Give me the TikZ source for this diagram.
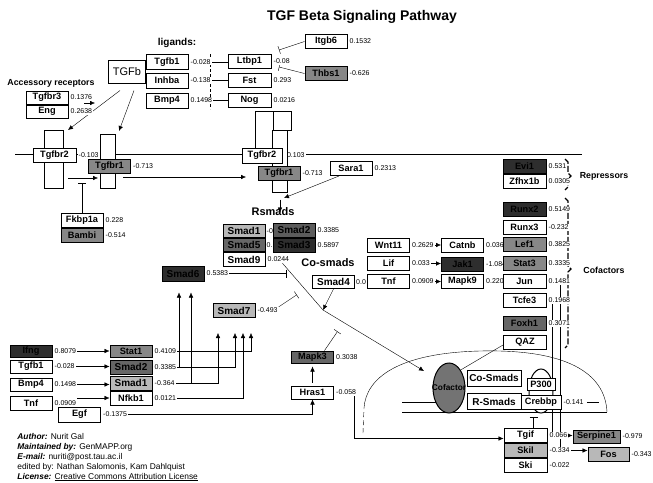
\documentclass[tikz,border=0pt]{standalone}
\usepackage{fontspec}
\setmainfont{Liberation Sans}
\usetikzlibrary{arrows.meta,positioning,shapes.geometric,calc}
\pgfdeclarelayer{wires}
\pgfdeclarelayer{labels}
\pgfsetlayers{wires,labels,main}

\begin{document}
\begin{tikzpicture}[
    x=1pt, y=-1pt,
    line width=0.8pt,
    gene/.style={
      draw,
      fill=white,
      line width=1pt,
      minimum width=42pt,
      minimum height=14pt,
      inner sep=0pt,
      font=\bfseries\fontsize{9.2}{10}\selectfont
    },
    smad/.style={gene, font=\bfseries\fontsize{10}{11}\selectfont},
    gA/.style={fill=black!28},
    gB/.style={fill=black!47},
    gC/.style={fill=black!60},
    gD/.style={fill=black!82},
    val/.style={anchor=west, fill=white, inner sep=1pt, font=\fontsize{7}{8}\selectfont},
    hdr/.style={font=\bfseries\fontsize{11}{12}\selectfont},
    grp/.style={font=\bfseries\fontsize{8.8}{10}\selectfont},
    foot/.style={anchor=west, inner sep=0pt, font=\fontsize{8.4}{9}\selectfont},
    dom/.style={draw, fill=white, line width=1pt},
    flow/.style={-{Latex[length=5pt,width=4.5pt]}},
    inh/.style={-{Bar[width=8pt]}}
  ]
  \useasboundingbox (0,0) rectangle (653,482);

  % title and group labels
  \node[font=\bfseries\fontsize{14}{16}\selectfont] (title) at (362,17) {TGF Beta Signaling Pathway};
  \node[hdr, font=\bfseries\fontsize{10}{12}\selectfont] (ligtxt) at (177,43) {ligands:};
  \node[grp] (acctxt) at (51,83) {Accessory receptors};
  \node[hdr] (rsmtxt) at (273,212) {Rsmads};
  \node[hdr] (cosmtxt) at (328,263) {Co-smads};
  \node[grp] (reptxt) at (604,176) {Repressors};
  \node[grp] (coftxt) at (604,270) {Cofactors};

  % ligands
  \node[draw, fill=white, line width=1pt, minimum width=37pt, minimum height=23pt, inner sep=0pt,
        font=\fontsize{11}{12}\selectfont] (tgfb) at (127,71.5) {TGFb};
  \node[gene, minimum height=15pt] (tgfb1) at (167,62) {Tgfb1};
  \node[gene, minimum height=15pt] (inhba) at (167,80.5) {Inhba};
  \node[gene, minimum height=15pt] (bmp4) at (167,100.5) {Bmp4};
  \node[gene, minimum width=43pt] (ltbp1) at (249.5,61.5) {Ltbp1};
  \node[gene, minimum width=43pt] (fst) at (249.5,80) {Fst};
  \node[gene, minimum width=43pt] (nog) at (249.5,100) {Nog};
  \node[gene] (itgb6) at (326,41.5) {Itgb6};
  \node[gene, gB] (thbs1) at (326,73.5) {Thbs1};

  % accessory receptors
  \node[gene, minimum height=13pt] (tgfbr3) at (47,97.5) {Tgfbr3};
  \node[gene, minimum height=13pt, below=0pt of tgfbr3] (eng) {Eng};

  % receptors, left pair
  \draw[dom] (44,130) rectangle (63,148);
  \draw[dom] (44,162) rectangle (63,188);
  \draw[dom] (100,134) rectangle (115,159);
  \draw[dom] (100,173) rectangle (115,188);
  \node[gene, minimum width=43pt] (tgfbr2a) at (54.5,155) {Tgfbr2};
  \node[gene, gB] (tgfbr1a) at (109.5,166) {Tgfbr1};
  \node[gene] (fkbp1a) at (82,220) {Fkbp1a};
  \node[gene, gB, below=0pt of fkbp1a] (bambi) {Bambi};

  % receptors, right pair
  \draw[dom] (255,111) rectangle (273,148);
  \draw[dom] (272,130) rectangle (287,166);
  \draw[dom] (273,111) rectangle (291,130);
  \draw[dom] (272,180) rectangle (287,192);
  \node[gene, minimum width=40pt, minimum height=15pt] (tgfbr2b) at (262,155.5) {Tgfbr2};
  \node[gene, gB] (tgfbr1b) at (279,173) {Tgfbr1};
  \node[gene] (sara1) at (351,168.5) {Sara1};

  % smads
  \node[smad, gA, minimum height=13pt] (smad1) at (244,231) {Smad1};
  \node[smad, gC, minimum height=13pt, below=0pt of smad1] (smad5) {Smad5};
  \node[smad, below=0pt of smad5] (smad9) {Smad9};
  \node[smad, fill=black!64] (smad2) at (294,230) {Smad2};
  \node[smad, gD, below=0pt of smad2] (smad3) {Smad3};
  \node[smad, gD, minimum height=15pt] (smad6) at (183,273.5) {Smad6};
  \node[smad, gA] (smad7) at (234,310.5) {Smad7};
  \node[smad, minimum height=13pt] (smad4) at (333.5,282) {Smad4};

  % middle inputs
  \node[gene] (wnt11) at (388.5,245) {Wnt11};
  \node[gene] (lif) at (388.5,263.5) {Lif};
  \node[gene] (tnf) at (388.5,281.5) {Tnf};
  \node[gene] (catnb) at (462.5,245) {Catnb};
  \node[gene, gD] (jak1) at (462.5,264) {Jak1};
  \node[gene] (mapk9) at (462.5,281.5) {Mapk9};

  % repressors and cofactors
  \node[gene, minimum width=43pt, gD] (evi1) at (524.5,166) {Evi1};
  \node[gene, minimum width=43pt] (zfhx1b) at (524.5,181.5) {Zfhx1b};
  \node[gene, minimum width=43pt, gD] (runx2) at (524.5,209) {Runx2};
  \node[gene, minimum width=43pt] (runx3) at (524.5,227.5) {Runx3};
  \node[gene, minimum width=43pt, gB] (lef1) at (524.5,244.5) {Lef1};
  \node[gene, minimum width=43pt, gB] (stat3) at (524.5,263) {Stat3};
  \node[gene, minimum width=43pt] (jun) at (524.5,281.5) {Jun};
  \node[gene, minimum width=43pt] (tcfe3) at (524.5,300.5) {Tcfe3};
  \node[gene, minimum width=43pt, gC] (foxh1) at (524.5,323.5) {Foxh1};
  \node[gene, minimum width=43pt] (qaz) at (525,342) {QAZ};

  % nucleus
  \node[draw, ellipse, fill=black!55, line width=1pt, minimum width=32pt, minimum height=50pt,
        inner sep=0pt] (cof) at (449,388) {};
  \node[font=\bfseries\fontsize{8.3}{9}\selectfont, inner sep=0pt] (coflbl) at (cof.center) {Cofactor};
  \node[smad, minimum width=54pt, minimum height=16pt] (cosmads) at (494,378) {Co-Smads};
  \node[smad, minimum width=54pt, minimum height=16pt] (rsmads) at (494,401.5) {R-Smads};
  \draw[fill=white, line width=1pt] (541,391) ellipse [x radius=12pt, y radius=22pt];
  \node[gene, minimum width=28pt, minimum height=12pt] (p300) at (541,384.5) {P300};
  \node[gene, minimum width=40pt] (crebbp) at (541,402) {Crebbp};
  \node[gene, minimum width=43pt] (tgif) at (525.5,435.5) {Tgif};
  \node[gene, minimum width=43pt, gA, below=0pt of tgif] (skil) {Skil};
  \node[gene, minimum width=43pt, below=0pt of skil] (ski) {Ski};
  \node[gene, minimum width=47pt, minimum height=13pt, gB] (serpine1) at (596.5,436.5) {Serpine1};
  \node[gene, minimum width=41pt, gA] (fos) at (608.5,454) {Fos};

  % lower left inputs
  \node[gene, gD, minimum height=12pt] (ifng) at (31,351) {Ifng};
  \node[gene, minimum height=13pt] (tgfb1c) at (31,366.5) {Tgfb1};
  \node[gene, minimum height=13pt] (bmp4c) at (31,384.5) {Bmp4};
  \node[gene] (tnfc) at (31,403) {Tnf};
  \node[gene, minimum height=15pt] (egf) at (79.5,414.5) {Egf};
  \node[gene, gB, minimum height=12pt] (stat1) at (131,351) {Stat1};
  \node[smad, gC] (smad2c) at (131,367) {Smad2};
  \node[smad, gA] (smad1c) at (131,383) {Smad1};
  \node[gene] (nfkb1) at (131,398) {Nfkb1};
  \node[gene, gC, minimum height=12pt] (mapk3) at (312.5,357) {Mapk3};
  \node[gene, minimum height=13pt] (hras1) at (312.5,392.5) {Hras1};

  % credits
  \node[foot] (auth) at (17,436) {\textbf{\textit{Author:}} Nurit Gal};
  \node[foot] (maint) at (17,447) {\textbf{\textit{Maintained by:}} GenMAPP.org};
  \node[foot] (mail) at (17,457.5) {\textbf{\textit{E-mail:}} nuriti@post.tau.ac.il};
  \node[foot] (edit) at (17,467.5) {edited by: Nathan Salomonis, Kam Dahlquist};
  \node[foot] (lic) at (17,477) {\textbf{\textit{License:}} \underline{Creative Commons Attribution License}};

  \begin{pgfonlayer}{labels}
    \node[val, right=1pt of tgfb1] (vtgfb1) {-0.028};
    \node[val, right=1pt of inhba] (vinhba) {-0.138};
    \node[val, right=1pt of bmp4] (vbmp4) {0.1498};
    \node[val, right=1pt of ltbp1] (vltbp1) {-0.08};
    \node[val, right=1pt of fst] (vfst) {0.293};
    \node[val, right=1pt of nog] (vnog) {0.0216};
    \node[val, right=1pt of itgb6] (vitgb6) {0.1532};
    \node[val, right=1pt of thbs1] (vthbs1) {-0.626};
    \node[val, right=1pt of tgfbr3] (vtgfbr3) {0.1376};
    \node[val, right=1pt of eng] (veng) {0.2638};
    \node[val, right=1pt of tgfbr2a] (vtgfbr2a) {-0.103};
    \node[val, right=1pt of tgfbr1a] (vtgfbr1a) {-0.713};
    \node[val, right=1pt of fkbp1a] (vfkbp1a) {0.228};
    \node[val, right=1pt of bambi] (vbambi) {-0.514};
    \node[val, right=1pt of tgfbr2b] (vtgfbr2b) {-0.103};
    \node[val, right=1pt of tgfbr1b] (vtgfbr1b) {-0.713};
    \node[val, right=1pt of sara1] (vsara1) {0.2313};
    \node[val, right=0.5pt of smad1, inner sep=0.5pt] (vsmad1) {-0};
    \node[val, right=0.5pt of smad5, inner sep=0.5pt] (vsmad5) {0.};
    \node[val, right=1pt of smad9] (vsmad9) {0.0244};
    \node[val, right=1pt of smad2] (vsmad2) {0.3385};
    \node[val, right=1pt of smad3] (vsmad3) {0.5897};
    \node[val, right=1pt of smad6] (vsmad6) {0.5383};
    \node[val, right=1pt of smad7] (vsmad7) {-0.493};
    \node[val, right=0.5pt of smad4, inner sep=0.5pt] (vsmad4) {0.0};
    \node[val, right=1pt of wnt11] (vwnt11) {0.2629};
    \node[val, right=1pt of lif] (vlif) {0.033};
    \node[val, right=1pt of tnf] (vtnf) {0.0909};
    \node[val, right=1pt of catnb] (vcatnb) {0.036};
    \node[val, right=1pt of jak1] (vjak1) {-1.084};
    \node[val, right=1pt of mapk9] (vmapk9) {0.220};
    \node[val, right=1pt of evi1] (vevi1) {0.531};
    \node[val, right=1pt of zfhx1b] (vzfhx1b) {0.0305};
    \node[val, right=1pt of runx2] (vrunx2) {0.5149};
    \node[val, right=1pt of runx3] (vrunx3) {-0.232};
    \node[val, right=1pt of lef1] (vlef1) {0.3825};
    \node[val, right=1pt of stat3] (vstat3) {0.3335};
    \node[val, right=1pt of jun] (vjun) {0.1481};
    \node[val, right=1pt of tcfe3] (vtcfe3) {0.1968};
    \node[val, right=1pt of foxh1] (vfoxh1) {0.3071};
    \node[val, right=1pt of crebbp] (vcrebbp) {-0.141};
    \node[val, right=1pt of tgif] (vtgif) {0.066};
    \node[val, right=1pt of skil] (vskil) {-0.334};
    \node[val, right=1pt of ski] (vski) {-0.022};
    \node[val, right=1pt of serpine1] (vserpine1) {-0.979};
    \node[val, right=1pt of fos] (vfos) {-0.343};
    \node[val, right=1pt of ifng] (vifng) {0.8079};
    \node[val, right=1pt of tgfb1c] (vtgfb1c) {-0.028};
    \node[val, right=1pt of bmp4c] (vbmp4c) {0.1498};
    \node[val, right=1pt of tnfc] (vtnfc) {0.0909};
    \node[val, right=1pt of egf] (vegf) {-0.1375};
    \node[val, right=1pt of stat1] (vstat1) {0.4109};
    \node[val, right=1pt of smad2c] (vsmad2c) {0.3385};
    \node[val, right=1pt of smad1c] (vsmad1c) {-0.364};
    \node[val, right=1pt of nfkb1] (vnfkb1) {0.0121};
    \node[val, right=1pt of mapk3] (vmapk3) {0.3038};
    \node[val, right=1pt of hras1] (vhras1) {-0.058};
  \end{pgfonlayer}

  \begin{pgfonlayer}{wires}
    % membrane
    \draw (15,154) -- (582,154);
    % ligand binding
    \draw (vtgfb1.east) -- (vtgfb1.east -| ltbp1.west);
    \draw (vinhba.east) -- (vinhba.east -| fst.west);
    \draw (vbmp4.east) -- (vbmp4.east -| nog.west);
    \draw[dash pattern=on 3pt off 2pt] (210,54) -- (210,109);
    \coordinate (itgbbar) at (279,50);
    \coordinate (thbsbar) at (279,67);
    \draw[inh] (itgb6.west) -- (itgbbar);
    \draw[inh] (thbs1.west) -- (thbsbar);
    \coordinate (r2hit) at (68,130);
    \coordinate (r1hit) at (119,131);
    \draw[flow] ([xshift=-7pt,yshift=-7pt]tgfb.south) -- (r2hit);
    \draw[flow] ([xshift=7pt,yshift=-7pt]tgfb.south) -- (r1hit);
    \coordinate (accL) at (84,103);
    \coordinate (accR) at (95,103);
    \draw[flow] (accL) -- (accR);
    % receptor activation
    \coordinate (r2in) at (68,178);
    \coordinate (r1in) at (98,178);
    \draw[flow] (r2in) -- (r1in);
    \draw[inh] (fkbp1a.north) -- ++(0,-30);
    \coordinate (sigL) at (123,177);
    \coordinate (sigR) at (246,177);
    \draw[flow] (sigL) -- (sigR);
    \draw[flow] ([xshift=1pt,yshift=-19pt]tgfbr1b.south) -- ++(0,13);
    \draw[flow] ([xshift=-12pt]sara1.south) -- ++(-55,22);
    % smad signalling
    \draw[inh] (vsmad6.east) -- ++(57,0);
    \draw[inh] (vsmad7.north east) -- ++(18,-12);
    \coordinate (kink) at (323,310);
    \coordinate (cofin) at (424,371);
    \draw[flow] ([xshift=4pt]vsmad9.south) -- (kink) -- (cofin);
    \draw[flow] (smad4.south) -- (kink);
    \draw[inh] ([xshift=12pt]mapk3.north) -- ++(13,-19);
    \draw[flow, shorten <=3pt, shorten >=3pt] (hras1.north) -- (mapk3.south);
    \draw[flow] (vegf.east) -| (hras1.south);
    \draw[flow] ([xshift=-3pt]vhras1.south east) |- ([yshift=-3pt]tgif.west);
    % inputs lower left
    \draw[flow] (vifng.east) -- (vifng.east -| stat1.west);
    \draw[flow] (vtgfb1c.east) -- (vtgfb1c.east -| smad2c.west);
    \draw[flow] (vbmp4c.east) -- (vbmp4c.east -| smad1c.west);
    \draw[flow] (vtnfc.east |- nfkb1.west) -- (nfkb1.west);
    \coordinate (s6a) at ($(smad6.south)+(-4,11)$);
    \coordinate (s6b) at ($(smad6.south)+(8,11)$);
    \coordinate (s7a) at ($(smad7.south)+(-16,15)$);
    \coordinate (s7b) at ($(smad7.south)+(1,15)$);
    \coordinate (s7c) at ($(smad7.south)+(9,15)$);
    \coordinate (s7d) at ($(smad7.south)+(17,15)$);
    \draw[flow] (vstat1.east) -| (s7d);
    \draw[flow] (vsmad2c.east) -| (s7b);
    \draw[flow] (vsmad2c.east -| s6a) -- (s6a);
    \draw[flow] (vsmad1c.east) -| (s7a);
    \draw[flow] (vsmad1c.east -| s6b) -- (s6b);
    \draw[flow] (vnfkb1.east) -| (s7c);
    % middle inputs
    \draw[flow] (vwnt11.east) -- (vwnt11.east -| catnb.west);
    \draw[flow] (vlif.east) -- (vlif.east -| jak1.west);
    \draw[flow] (vtnf.east) -- (vtnf.east -| mapk9.west);
    % target genes
    \draw[flow] ([xshift=1pt]vjun.south) |- (vskil.east -| fos.west);
    \draw[flow] ([xshift=-7pt]vtcfe3.south) |- (vtgif.east -| serpine1.west);
    \draw[inh] ([xshift=8pt]tgif.north) -- ++(0,-11);
    \draw ([xshift=2pt]vcrebbp.east) -- ++(12,0);
    \draw ([yshift=-3pt]qaz.west) -- (cof.north east);
    % nucleus
    \draw[dash pattern=on 5pt off 3pt] (363,433) -- (364,408);
    \draw (364,408) .. controls (366,378) and (398,353) .. (480,351)
          .. controls (565,349) and (605,372) .. (607,412);
    \draw (402,412) -- (607,412);
    \draw (402,402) -- (449,402);
    % braces
    \draw[line width=1.3pt, dash pattern=on 6pt off 2pt]
      (565,159) -- (568,162) -- (568,173) -- (571,176) -- (568,179) -- (568,187) -- (565,190);
    \draw[line width=1.3pt, dash pattern=on 6pt off 2pt]
      (565,198) -- (568,201) -- (568,266) -- (571,269) -- (568,272) -- (568,345) -- (565,348);
  \end{pgfonlayer}
\end{tikzpicture}
\end{document}
